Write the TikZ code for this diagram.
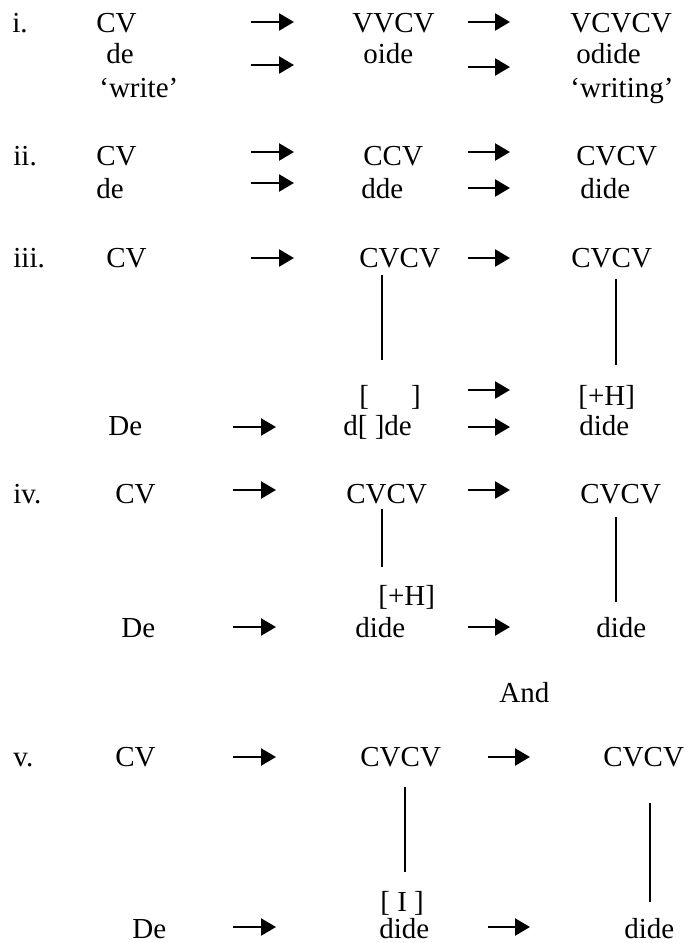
\documentclass[tikz,border=0pt]{standalone}
\usepackage{fontspec}
\setmainfont{Liberation Serif}
\usetikzlibrary{arrows.meta}
\tikzset{
  lbl/.style={anchor=base west,inner sep=0pt,font=\fontsize{14.5}{17}\selectfont},
  arr/.style={line width=1.2pt,-{Triangle[length=7.5pt,width=8.5pt]}},
  stem/.style={line width=0.65pt}
}
\begin{document}
\begin{tikzpicture}[x=0.5pt,y=-0.5pt]
\useasboundingbox (0,0) rectangle (686,943);
% ---------- i ----------
\node[lbl] (i)   at (12,32)  {i.};
\node[lbl] (iA)  at (96,32)  {CV};
\node[lbl] (iB)  at (352,32) {VVCV};
\node[lbl] (iC)  at (570,32) {VCVCV};
\node[lbl] (iD)  at (106,63) {de};
\node[lbl] (iE)  at (363,63) {oide};
\node[lbl] (iF)  at (576,63) {odide};
\node[lbl] (iG)  at (99,97)  {‘write’};
\node[lbl] (iH)  at (570,97) {‘writing’};
\coordinate (ia1s) at (251,22); \coordinate (ia1e) at (294,22);
\coordinate (ia2s) at (468,22); \coordinate (ia2e) at (510,22);
\coordinate (ia3s) at (251,65); \coordinate (ia3e) at (294,65);
\coordinate (ia4s) at (468,67); \coordinate (ia4e) at (510,67);
\draw[arr] (ia1s) -- (ia1e);
\draw[arr] (ia2s) -- (ia2e);
\draw[arr] (ia3s) -- (ia3e);
\draw[arr] (ia4s) -- (ia4e);
% ---------- ii ----------
\node[lbl] (ii)   at (13,165)  {ii.};
\node[lbl] (iiA)  at (96,165)  {CV};
\node[lbl] (iiB)  at (363,165) {CCV};
\node[lbl] (iiC)  at (576,165) {CVCV};
\node[lbl] (iiD)  at (96,198)  {de};
\node[lbl] (iiE)  at (361,198) {dde};
\node[lbl] (iiF)  at (580,198) {dide};
\coordinate (iia1s) at (251,152); \coordinate (iia1e) at (294,152);
\coordinate (iia2s) at (468,152); \coordinate (iia2e) at (510,152);
\coordinate (iia3s) at (251,183); \coordinate (iia3e) at (294,183);
\coordinate (iia4s) at (468,188); \coordinate (iia4e) at (510,188);
\draw[arr] (iia1s) -- (iia1e);
\draw[arr] (iia2s) -- (iia2e);
\draw[arr] (iia3s) -- (iia3e);
\draw[arr] (iia4s) -- (iia4e);
% ---------- iii ----------
\node[lbl] (iii)   at (13,267)  {iii.};
\node[lbl] (iiiA)  at (106,267) {CV};
\node[lbl] (iiiB)  at (359,267) {CVCV};
\node[lbl] (iiiC)  at (571,267) {CVCV};
\node[lbl] (iiiD)  at (359,405) {[\hspace{21pt}]};
\node[lbl] (iiiE)  at (578,405) {[+H]};
\node[lbl] (iiiF)  at (108,435) {De};
\node[lbl] (iiiG)  at (343,435) {d[ ]de};
\node[lbl] (iiiH)  at (579,435) {dide};
\coordinate (iiis1t) at (382,275); \coordinate (iiis1b) at (382,360);
\coordinate (iiis2t) at (616,279); \coordinate (iiis2b) at (616,365);
\draw[stem] (iiis1t) -- (iiis1b);
\draw[stem] (iiis2t) -- (iiis2b);
\coordinate (iiia1s) at (251,258); \coordinate (iiia1e) at (294,258);
\coordinate (iiia2s) at (468,258); \coordinate (iiia2e) at (510,258);
\coordinate (iiia3s) at (468,390); \coordinate (iiia3e) at (510,390);
\coordinate (iiia4s) at (233,427); \coordinate (iiia4e) at (276,427);
\coordinate (iiia5s) at (468,427); \coordinate (iiia5e) at (510,427);
\draw[arr] (iiia1s) -- (iiia1e);
\draw[arr] (iiia2s) -- (iiia2e);
\draw[arr] (iiia3s) -- (iiia3e);
\draw[arr] (iiia4s) -- (iiia4e);
\draw[arr] (iiia5s) -- (iiia5e);
% ---------- iv ----------
\node[lbl] (iv)   at (13,503)  {iv.};
\node[lbl] (ivA)  at (115,503) {CV};
\node[lbl] (ivB)  at (346,503) {CVCV};
\node[lbl] (ivC)  at (580,503) {CVCV};
\node[lbl] (ivD)  at (378,605) {[+H]};
\node[lbl] (ivE)  at (121,637) {De};
\node[lbl] (ivF)  at (355,637) {dide};
\node[lbl] (ivG)  at (596,637) {dide};
\node[lbl] (and)  at (499,702) {And};
\coordinate (ivs1t) at (382,509); \coordinate (ivs1b) at (382,567);
\coordinate (ivs2t) at (616,517); \coordinate (ivs2b) at (616,602);
\draw[stem] (ivs1t) -- (ivs1b);
\draw[stem] (ivs2t) -- (ivs2b);
\coordinate (iva1s) at (233,490); \coordinate (iva1e) at (276,490);
\coordinate (iva2s) at (468,490); \coordinate (iva2e) at (510,490);
\coordinate (iva3s) at (233,627); \coordinate (iva3e) at (276,627);
\coordinate (iva4s) at (468,627); \coordinate (iva4e) at (510,627);
\draw[arr] (iva1s) -- (iva1e);
\draw[arr] (iva2s) -- (iva2e);
\draw[arr] (iva3s) -- (iva3e);
\draw[arr] (iva4s) -- (iva4e);
% ---------- v ----------
\node[lbl] (v)   at (13,766)  {v.};
\node[lbl] (vA)  at (115,766) {CV};
\node[lbl] (vB)  at (360,766) {CVCV};
\node[lbl] (vC)  at (603,766) {CVCV};
\node[lbl] (vD)  at (380,911) {[ I ]};
\node[lbl] (vE)  at (132,938) {De};
\node[lbl] (vF)  at (379,938) {dide};
\node[lbl] (vG)  at (624,938) {dide};
\coordinate (vs1t) at (405,787); \coordinate (vs1b) at (405,872);
\coordinate (vs2t) at (650,803); \coordinate (vs2b) at (650,902);
\draw[stem] (vs1t) -- (vs1b);
\draw[stem] (vs2t) -- (vs2b);
\coordinate (va1s) at (233,757); \coordinate (va1e) at (276,757);
\coordinate (va2s) at (488,757); \coordinate (va2e) at (530,757);
\coordinate (va3s) at (233,927); \coordinate (va3e) at (276,927);
\coordinate (va4s) at (488,927); \coordinate (va4e) at (530,927);
\draw[arr] (va1s) -- (va1e);
\draw[arr] (va2s) -- (va2e);
\draw[arr] (va3s) -- (va3e);
\draw[arr] (va4s) -- (va4e);
\end{tikzpicture}
\end{document}
